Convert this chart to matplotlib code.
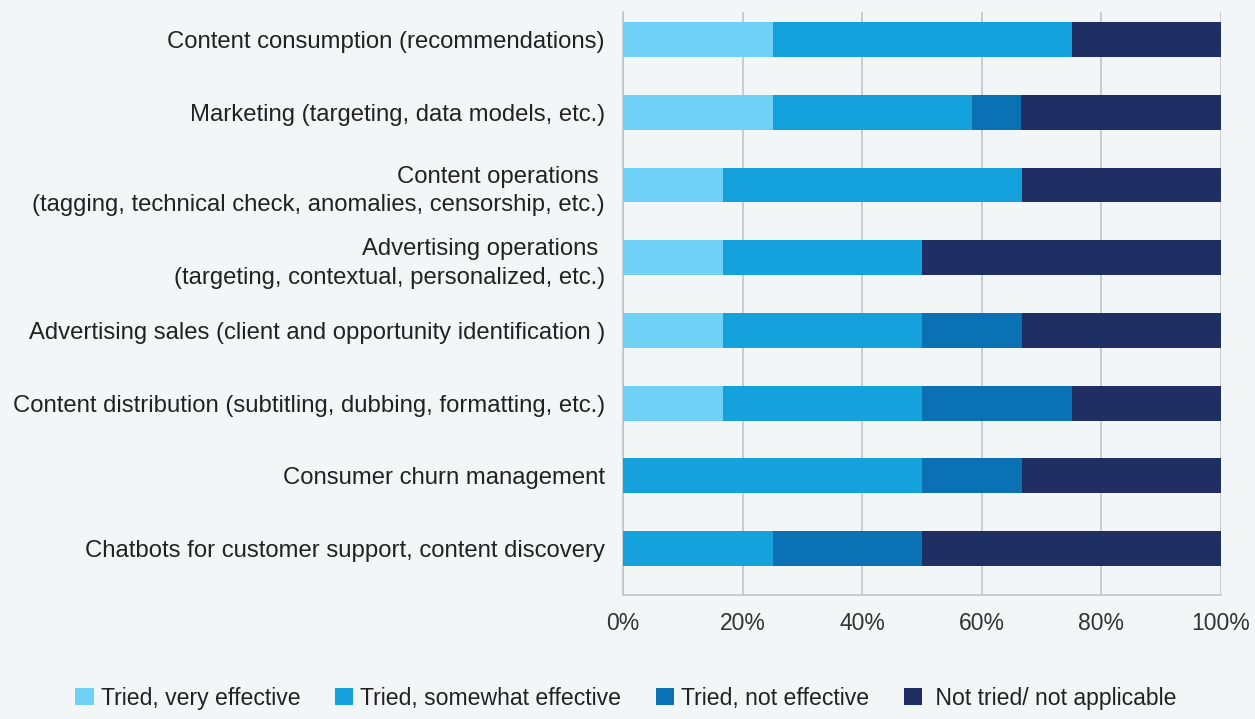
import numpy as np
import matplotlib
matplotlib.use("Agg")
from matplotlib import pyplot as plt

plt.rcParams['font.family'] = ['Liberation Sans', 'DejaVu Sans']

categories = [
    "Content consumption (recommendations)",
    "Marketing (targeting, data models, etc.)",
    "Content operations \n(tagging, technical check, anomalies, censorship, etc.)",
    "Advertising operations \n(targeting, contextual, personalized, etc.)",
    "Advertising sales (client and opportunity identification )",
    "Content distribution (subtitling, dubbing, formatting, etc.)",
    "Consumer churn management",
    "Chatbots for customer support, content discovery",
]
series_names = ["Tried, very effective", "Tried, somewhat effective",
                "Tried, not effective", " Not tried/ not applicable"]
very_effective = [25, 25, 16.7, 16.7, 16.7, 16.7, 0, 0]
somewhat_effective = [50, 33.3, 50, 33.3, 33.3, 33.3, 50, 25]
not_effective = [0, 8.3, 0, 0, 16.7, 25, 16.7, 25]
not_tried = [25, 33.4, 33.3, 50, 33.3, 25, 33.3, 50]
colors = ["#70D1F6", "#15A1DB", "#0A72B4", "#1F2E63"]

bg = "#F3F6F7"
fig = plt.figure(figsize=(12.55, 7.19), dpi=100, facecolor=bg)
ax = fig.add_axes([623 / 1255, 1 - 595 / 719, 598 / 1255, 583 / 719], facecolor=bg)

y = np.arange(len(categories))
left = np.zeros(len(categories))
for vals, name, c in zip([very_effective, somewhat_effective, not_effective, not_tried],
                         series_names, colors):
    ax.barh(y, vals, left=left, height=0.48, color=c, label=name, zorder=3)
    left += np.array(vals)

ax.set_xlim(0, 100)
ax.set_ylim(7.64, -0.38)
ax.set_xticks(np.arange(0, 101, 20))
ax.set_xticklabels([f"{v}%" for v in range(0, 101, 20)])
ax.set_yticks(y)
ax.set_yticklabels(categories, fontsize=17.2, color="#222222", linespacing=1.4)
ax.tick_params(axis='x', length=0, pad=12, labelsize=16.5, labelcolor="#333333")
ax.tick_params(axis='y', length=0, pad=13)
ax.grid(axis='x', color="#BFC5CA", linewidth=1.2, zorder=0)
for s in ["top", "right"]:
    ax.spines[s].set_visible(False)
for s in ["left", "bottom"]:
    ax.spines[s].set_color("#BFC5CA")
    ax.spines[s].set_linewidth(1.2)

fig.legend(loc="center", bbox_to_anchor=(626 / 1255, 1 - 698 / 719), ncol=4,
           frameon=False, fontsize=16.6, handlelength=0.8, handleheight=0.8,
           handletextpad=0.3, columnspacing=1.5, labelcolor="#222222")

fig.savefig("out.png", dpi=100, facecolor=bg)
